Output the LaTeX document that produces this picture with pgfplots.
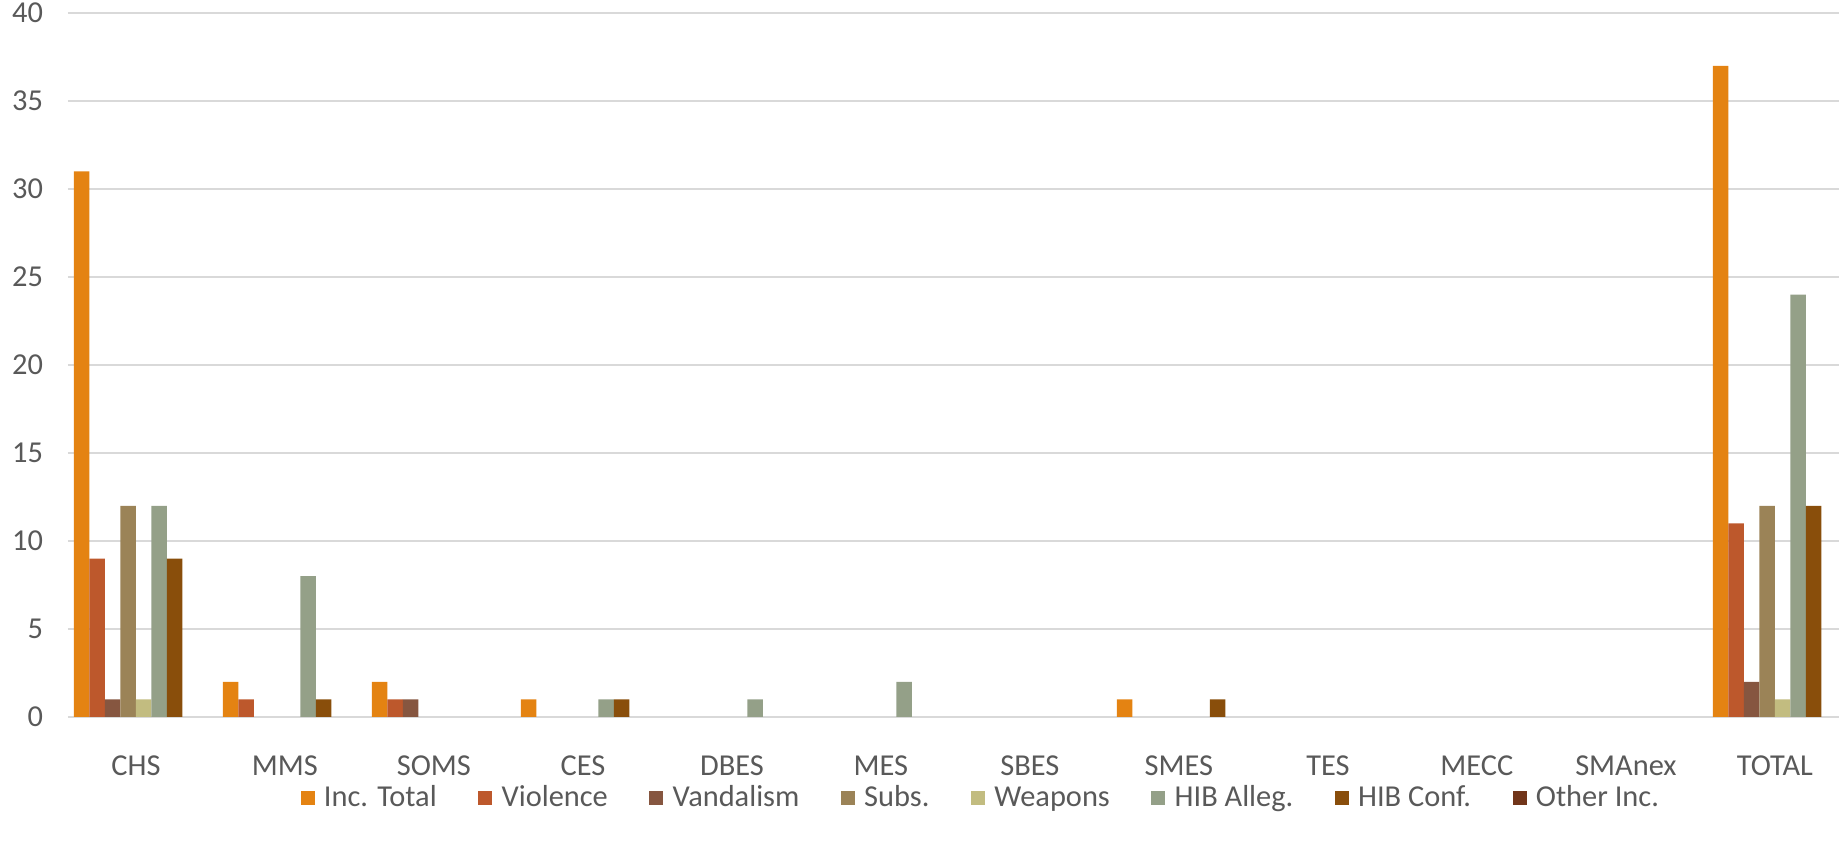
\documentclass[border=0pt]{standalone}
\usepackage{pgfplots}
\pgfplotsset{compat=1.18}
\usepackage{pgfplotstable}
\usepackage{fontspec}
\setmainfont{Carlito}
\usetikzlibrary{calc}

\definecolor{cInc}{HTML}{E48312}
\definecolor{cVio}{HTML}{BD582C}
\definecolor{cVan}{HTML}{865640}
\definecolor{cSub}{HTML}{9B8357}
\definecolor{cWea}{HTML}{C2BC80}
\definecolor{cHIBa}{HTML}{94A088}
\definecolor{cHIBc}{HTML}{894E0B}
\definecolor{cOth}{HTML}{71351A}
\definecolor{gridc}{HTML}{D9D9D9}
\definecolor{txt}{HTML}{595959}

% x: CHS MMS SOMS CES DBES MES SBES SMES TES MECC SMAnex TOTAL
\pgfplotstableread{
x inc vio van sub wea hiba hibc oth
0 31 9 1 12 1 12 9 0
1 2 1 0 0 0 8 1 0
2 2 1 1 0 0 0 0 0
3 1 0 0 0 0 1 1 0
4 0 0 0 0 0 1 0 0
5 0 0 0 0 0 2 0 0
6 0 0 0 0 0 0 0 0
7 1 0 0 0 0 0 1 0
8 0 0 0 0 0 0 0 0
9 0 0 0 0 0 0 0 0
10 0 0 0 0 0 0 0 0
11 37 11 2 12 1 24 12 0
}\incidents

\begin{document}
\begin{tikzpicture}
\begin{axis}[
  scale only axis,
  width=442.75pt, height=176pt,
  ybar=0pt, bar width=0.104,
  xmin=-0.456, xmax=11.43,
  ymin=0, ymax=40,
  ytick distance=5,
  xtick={0,...,11},
  xticklabels={CHS,MMS,SOMS,CES,DBES,MES,SBES,SMES,TES,MECC,SMAnex,TOTAL},
  axis line style={draw=none},
  major tick length=0pt,
  ymajorgrids=true,
  grid style={gridc, line width=0.45pt},
  tick label style={font=\fontsize{7.6}{9}\selectfont, text=txt},
  /pgf/number format/assume math mode=true,
  xticklabel style={yshift=-6.2pt},
  yticklabel style={xshift=-2.7pt},
  legend columns=8,
  legend style={at={(0.516,-0.117)}, anchor=center, draw=none, fill=none,
    font=\fontsize{7.6}{9}\selectfont, text=txt,
    nodes={inner sep=1pt},
    /tikz/every odd column/.append style={column sep=1.3pt},
    /tikz/every even column/.append style={column sep=9.4pt}},
  legend image code/.code={\fill[#1] (0pt,-1.3pt) rectangle (3.5pt,2.2pt);},
  every axis plot/.append style={draw=none},
  unbounded coords=discard,
  y filter/.expression={y==0 ? nan : y},
]
\addplot[fill=cInc] table[x=x,y=inc] {\incidents};
\addlegendentry{Inc. Total}
\addplot[fill=cVio] table[x=x,y=vio] {\incidents};
\addlegendentry{Violence}
\addplot[fill=cVan] table[x=x,y=van] {\incidents};
\addlegendentry{Vandalism}
\addplot[fill=cSub] table[x=x,y=sub] {\incidents};
\addlegendentry{Subs.}
\addplot[fill=cWea] table[x=x,y=wea] {\incidents};
\addlegendentry{Weapons}
\addplot[fill=cHIBa] table[x=x,y=hiba] {\incidents};
\addlegendentry{HIB Alleg.}
\addplot[fill=cHIBc] table[x=x,y=hibc] {\incidents};
\addlegendentry{HIB Conf.}
\addplot[fill=cOth] table[x=x,y=oth] {\incidents};
\addlegendimage{fill=cOth, draw=none}
\addlegendentry{Other Inc.}
\coordinate (sw) at (rel axis cs:0,0);
\coordinate (ne) at (rel axis cs:1,1);
\end{axis}
\pgfresetboundingbox
\path ($(sw)+(-17pt,-32.25pt)$) rectangle ($(ne)+(1pt,3.25pt)$);
\end{tikzpicture}
\end{document}
